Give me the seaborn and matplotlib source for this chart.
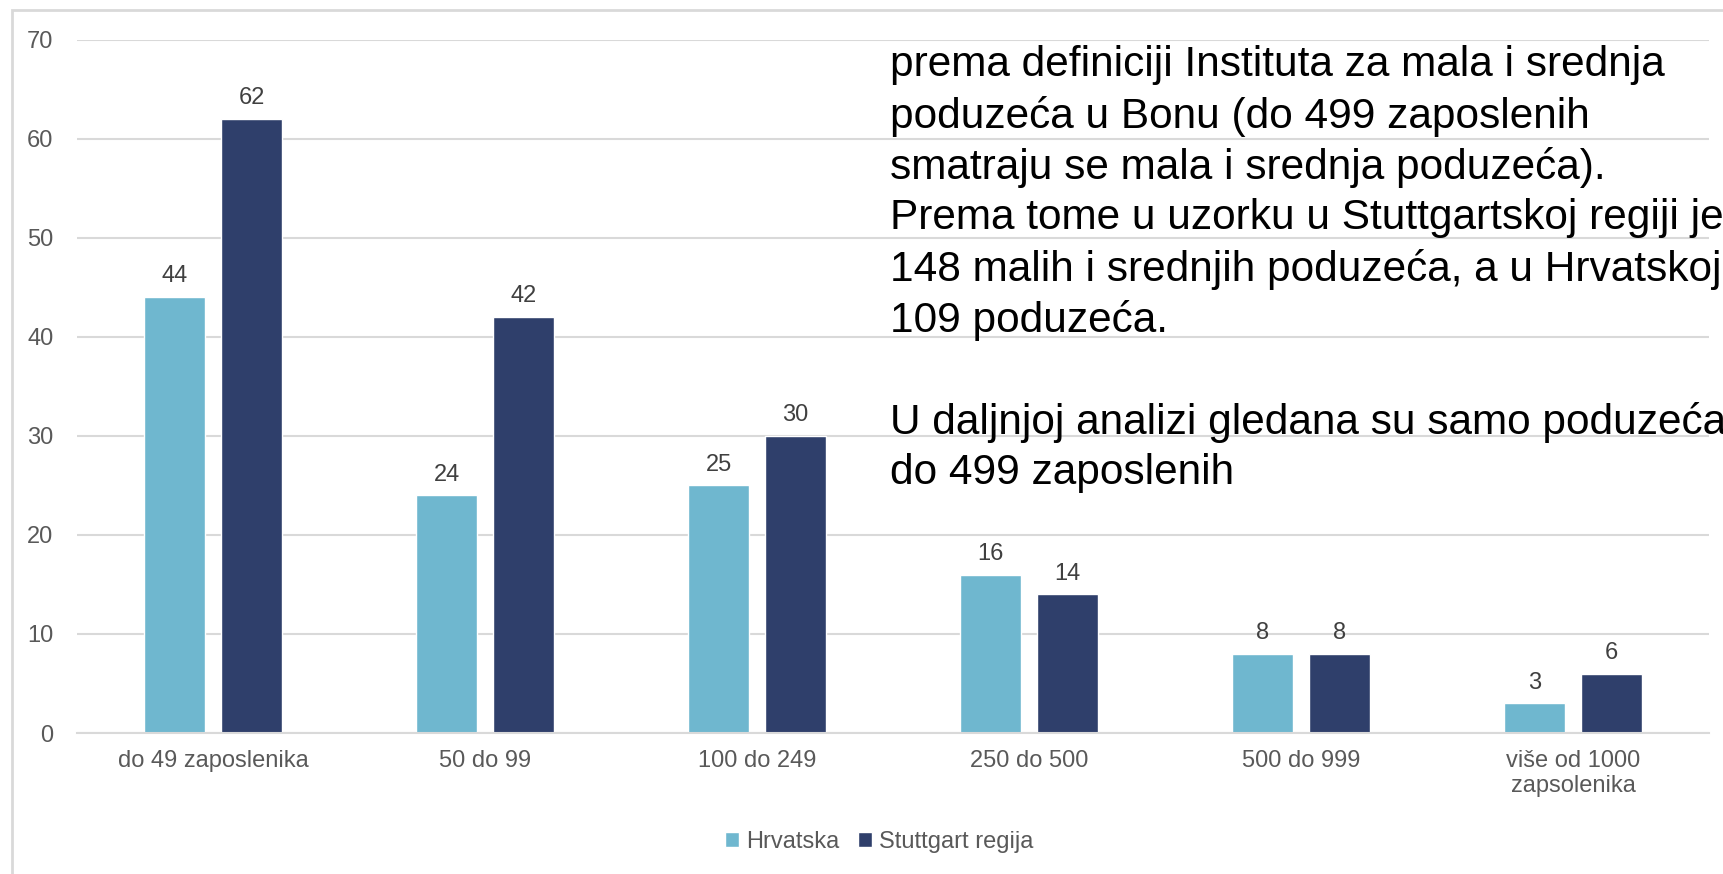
import pandas as pd
import matplotlib
matplotlib.use('Agg')
from matplotlib import pyplot as plt
from matplotlib.patches import Rectangle
import seaborn as sns

categories = ['do 49 zaposlenika', '50 do 99', '100 do 249', '250 do 500',
              '500 do 999', 'više od 1000\nzapsolenika']
hrvatska = [44, 24, 25, 16, 8, 3]
stuttgart = [62, 42, 30, 14, 8, 6]
series = ['Hrvatska', 'Stuttgart regija']
colors = ['#6FB7CF', '#2F3F6B']

note = ('prema definiciji Instituta za mala i srednja\n'
        'poduzeća u Bonu (do 499 zaposlenih\n'
        'smatraju se mala i srednja poduzeća).\n'
        'Prema tome u uzorku u Stuttgartskoj regiji je\n'
        '148 malih i srednjih poduzeća, a u Hrvatskoj\n'
        '109 poduzeća.\n'
        '\n'
        'U daljnjoj analizi gledana su samo poduzeća\n'
        'do 499 zaposlenih')

df = pd.DataFrame({
    'kategorija': categories * 2,
    'broj': hrvatska + stuttgart,
    'regija': [series[0]] * len(categories) + [series[1]] * len(categories),
})

sns.set_style('white')
plt.rcParams['font.family'] = ['Liberation Sans', 'DejaVu Sans']

fig = plt.figure(figsize=(17.23, 8.74), dpi=100)
ax = fig.add_axes([0.0447, 0.1613, 0.9472, 0.7935])

sns.barplot(data=df, x='kategorija', y='broj', hue='regija',
            palette=colors, width=0.566, gap=0.21, ax=ax,
            saturation=1, legend=True)

for cont in ax.containers:
    ax.bar_label(cont, padding=7, fontsize=17, color='#404040')

ax.set_ylim(0, 70)
ax.set_xlim(-0.5, 5.5)
ax.set_yticks(range(0, 71, 10))
ax.yaxis.grid(True, color='#D9D9D9', linewidth=1.5)
ax.set_axisbelow(True)
for s in ['top', 'right', 'left']:
    ax.spines[s].set_visible(False)
ax.spines['bottom'].set_color('#D9D9D9')
ax.spines['bottom'].set_linewidth(1.5)
ax.tick_params(axis='both', length=0, labelsize=17, labelcolor='#595959')
ax.tick_params(axis='y', pad=17)
ax.tick_params(axis='x', pad=12)
ax.set_xlabel('')
ax.set_ylabel('')

ax.legend(loc='center', bbox_to_anchor=(800 * 1.099 / 1723, 1 - 842 / 874),
          bbox_transform=fig.transFigure, ncol=2, frameon=False,
          fontsize=17, labelcolor='#595959', handlelength=0.6,
          handleheight=0.6, handletextpad=0.3, columnspacing=0.8)

fig.text(890 / 1723, 1 - 45 / 874, note, ha='left', va='top',
         fontsize=30.5, color='black', linespacing=1.33)

fig.add_artist(Rectangle((12 / 1723, -0.1), 1.2, 1 - 10 / 874 + 0.1,
                         transform=fig.transFigure, fill=False,
                         edgecolor='#D9D9D9', linewidth=2, clip_on=False))

fig.savefig('out.png', dpi=100)
